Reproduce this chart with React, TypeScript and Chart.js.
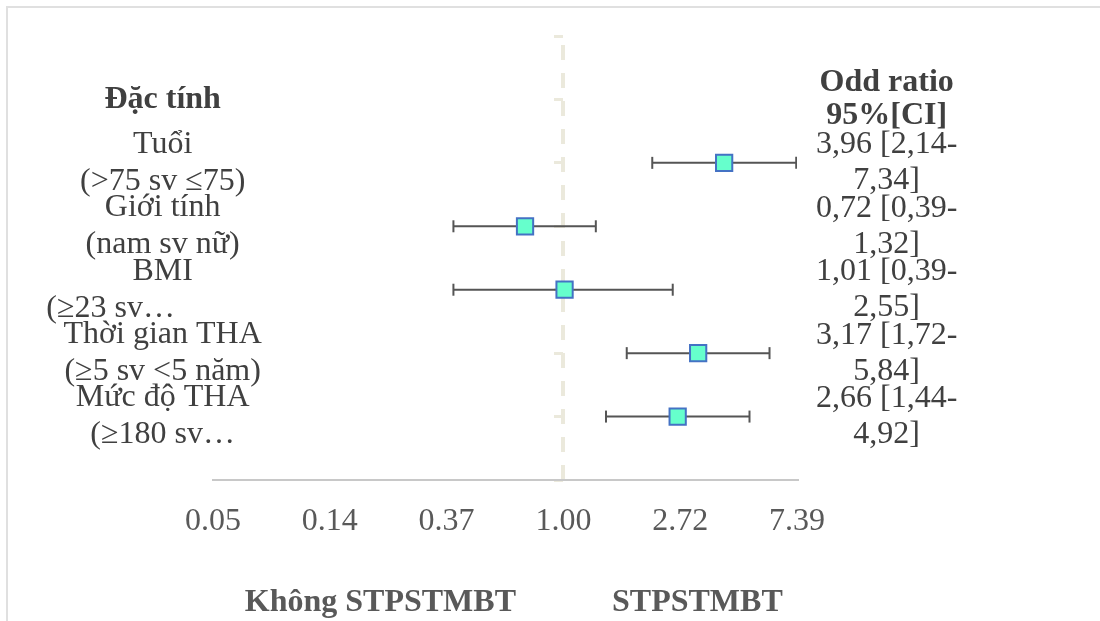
import React, { useEffect, useRef } from "react";
import { Chart, registerables } from "chart.js";

Chart.register(...registerables);

// ---- data ----
const headerLeft = ["Đặc tính"];
const headerRight = ["Odd ratio", "95%[CI]"];
const categories: string[][] = [
  ["Tuổi", "(>75 sv ≤75)"],
  ["Giới tính", "(nam sv nữ)"],
  ["BMI", "(≥23 sv…" + " ".repeat(13)],
  ["Thời gian THA", "(≥5 sv <5 năm)"],
  ["Mức độ THA", "(≥180 sv…"],
];
const oddRatios = [3.96, 0.72, 1.01, 3.17, 2.66];
const ciLower = [2.14, 0.39, 0.39, 1.72, 1.44];
const ciUpper = [7.34, 1.32, 2.55, 5.84, 4.92];
const xTickValues = [Math.exp(-3), Math.exp(-2), Math.exp(-1), 1, Math.exp(1), Math.exp(2)];
const xTickLabels = ["0.05", "0.14", "0.37", "1.00", "2.72", "7.39"];
const bottomLabels = ["Không STPSTMBT", "STPSTMBT"];

const SERIF = "'Liberation Serif', 'Times New Roman', serif";
const BEIGE = "#ebe9dc";
const TEXT_DARK = "#404040";
const TEXT_GRAY = "#595959";

const nRows = categories.length;
const rowY = categories.map((_, i) => nRows - i); // 5..1
const headerY = nRows + 1;
const yMax = nRows + 2;

const fmt = (v: number) => v.toFixed(2).replace(".", ",");
const rightLabels = oddRatios.map((v, i) => [
  `${fmt(v)} [${fmt(ciLower[i])}-`,
  `${fmt(ciUpper[i])}]`,
]);

function labelFor(value: number, header: string[], rows: string[][]) {
  const v = Math.round(value);
  if (v === headerY) return header;
  const idx = nRows - v;
  if (idx >= 0 && idx < nRows) return rows[idx];
  return "";
}

const hasLabel = (value: number) => {
  const v = Math.round(value);
  return v >= 1 && v <= headerY;
};

const tickFont = (lineHeight: string, headerLineHeight: string) => (c: any) => {
  const v = c.tick ? c.tick.value : 0;
  const isHeader = Math.round(v) === headerY;
  return {
    family: SERIF,
    size: 32,
    lineHeight: hasLabel(v) ? (isHeader ? headerLineHeight : lineHeight) : "1px",
    weight: isHeader ? "bold" : "normal",
  };
};

const bottomLabelPlugin = {
  id: "bottomLabels",
  beforeDraw(chart: any) {
    // let the left category labels spill past the axis box, as in the reference
    const s: any = chart.scales.yLeft;
    if (s) s._computeLabelArea = () => undefined;
  },
  afterDraw(chart: any) {
    const { ctx, scales } = chart;
    const x1 = scales.x.getPixelForValue(1);
    ctx.save();
    ctx.font = `bold 32px ${SERIF}`;
    ctx.fillStyle = TEXT_GRAY;
    ctx.textAlign = "center";
    ctx.textBaseline = "middle";
    ctx.fillText(bottomLabels[0], x1 - 183, 595);
    ctx.fillText(bottomLabels[1], x1 + 134, 595);
    ctx.restore();
  },
};

export default function App() {
  const ref = useRef<HTMLCanvasElement>(null);

  useEffect(() => {
    const canvas = ref.current;
    if (!canvas) return;

    const ciDatasets = oddRatios.map((_, i) => ({
      type: "scatter" as const,
      data: [
        { x: ciLower[i], y: rowY[i] },
        { x: ciUpper[i], y: rowY[i] },
      ],
      showLine: true,
      borderColor: "#555555",
      borderWidth: 2,
      pointStyle: "line" as const,
      pointRotation: 90,
      pointRadius: 6,
      pointHoverRadius: 6,
      pointBorderColor: "#555555",
      pointBorderWidth: 2,
      order: 1,
      yAxisID: "y",
      xAxisID: "x",
    }));

    const pointDataset = {
      type: "scatter" as const,
      data: oddRatios.map((v, i) => ({ x: v, y: rowY[i] })),
      pointStyle: "rect" as const,
      pointRadius: 11.5,
      pointHoverRadius: 11.5,
      backgroundColor: "#66ffcc",
      borderColor: "#4472c4",
      borderWidth: 2,
      showLine: false,
      order: 0,
      yAxisID: "y",
      xAxisID: "x",
    };

    const chart = new Chart(canvas, {
      type: "scatter",
      data: { datasets: [pointDataset as any, ...(ciDatasets as any[])] },
      plugins: [bottomLabelPlugin],
      options: {
        animation: false,
        responsive: false,
        events: [],
        layout: { padding: { top: 28, left: 0, right: 0, bottom: 0 } },
        plugins: { legend: { display: false }, tooltip: { enabled: false } },
        scales: {
          x: {
            type: "logarithmic",
            position: "bottom",
            min: xTickValues[0],
            max: xTickValues[xTickValues.length - 1],
            afterBuildTicks: (s: any) => {
              s.ticks = xTickValues.map((v) => ({ value: v }));
            },
            afterFit: (s: any) => {
              s.height = 166;
            },
            ticks: {
              autoSkip: false,
              maxRotation: 0,
              padding: 22,
              color: TEXT_GRAY,
              font: { family: SERIF, size: 32 },
              callback: (_v: any, i: number) => xTickLabels[i],
            },
            grid: {
              drawTicks: false,
              drawOnChartArea: true,
              color: (c: any) =>
                c.tick && Math.abs(c.tick.value - 1) < 1e-9 ? BEIGE : "rgba(0,0,0,0)",
              lineWidth: 4,
            },
            border: { display: true, color: "#c8c8c8", width: 2, dash: [15, 13], dashOffset: 19 },
          },
          y: {
            type: "linear",
            position: { x: 1 } as any,
            min: 0,
            max: yMax,
            ticks: { display: false, stepSize: 1 },
            grid: {
              drawOnChartArea: false,
              drawTicks: true,
              tickLength: 9,
              tickColor: BEIGE,
              tickWidth: 3,
              color: BEIGE,
            },
            border: { display: false },
          },
          yLeft: {
            type: "linear",
            position: "left",
            min: 0,
            max: yMax,
            afterFit: (s: any) => {
              s.width = 205;
            },
            ticks: {
              stepSize: 1,
              autoSkip: false,
              crossAlign: "center",
              padding: -66,
              color: TEXT_DARK,
              font: tickFont("37px", "40px"),
              callback: (v: any) => labelFor(Number(v), headerLeft, categories),
            },
            grid: { display: false, drawTicks: false, tickLength: 0 },
            border: { display: false },
          },
          yRight: {
            type: "linear",
            position: "right",
            min: 0,
            max: yMax,
            afterFit: (s: any) => {
              s.width = 303;
            },
            ticks: {
              stepSize: 1,
              autoSkip: false,
              crossAlign: "center",
              padding: 19,
              color: TEXT_DARK,
              font: tickFont("36px", "33px"),
              callback: (v: any) => labelFor(Number(v), headerRight, rightLabels),
            },
            grid: { display: false, drawTicks: false, tickLength: 0 },
            border: { display: false },
          },
        },
      } as any,
    });

    return () => chart.destroy();
  }, []);

  return (
    <div
      style={{
        position: "fixed",
        left: 6,
        top: 6,
        width: 1094,
        height: 640,
        boxSizing: "border-box",
        borderTop: "2px solid #e0e0e0",
        borderLeft: "2px solid #e0e0e0",
        background: "#ffffff",
      }}
    >
      <canvas ref={ref} width={1092} height={638} style={{ display: "block", width: 1092, height: 638 }} />
    </div>
  );
}
